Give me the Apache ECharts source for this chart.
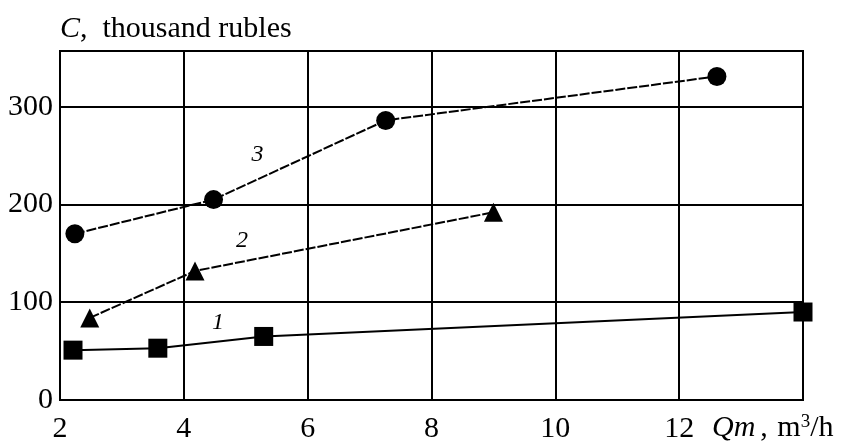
<!DOCTYPE html>
<html>
<head>
<meta charset="utf-8">
<script src="https://cdn.jsdelivr.net/npm/echarts@6/dist/echarts.min.js"></script>
<style>
  html, body { margin: 0; padding: 0; background: #fff; }
  #chart { width: 842px; height: 446px; }
</style>
</head>
<body>
<div id="chart"></div>
<script>
// Flow rate Qm (m^3/h) and cost C (thousand rubles) for the three curves
const curve1Q = [2.21, 3.58, 5.29, 14.0];
const curve1C = [51, 53, 65, 90];
const curve2Q = [2.48, 4.18, 9.0];
const curve2C = [84, 132, 192];
const curve3Q = [2.24, 4.48, 7.26, 12.61];
const curve3C = [170, 205, 286, 331];
const curveNames = ['1', '2', '3'];
const xTickLabels = [2, 4, 6, 8, 10, 12];
const yTickLabels = [0, 100, 200, 300];

const FONT = '"Liberation Serif", "Times New Roman", serif';
const pairs = (xs, ys) => xs.map((x, i) => [x, ys[i]]);

function curve(name, xs, ys, symbol, size, dash, labelAt) {
  return {
    name: name,
    type: 'line',
    data: pairs(xs, ys),
    symbol: symbol,
    symbolSize: size,
    clip: false,
    itemStyle: { color: '#000' },
    lineStyle: { color: '#000', width: 2, type: dash },
    markPoint: {
      symbol: 'circle',
      symbolSize: 1,
      itemStyle: { color: 'rgba(0,0,0,0)' },
      label: {
        show: true,
        position: 'inside',
        formatter: name,
        color: '#000',
        fontFamily: FONT,
        fontStyle: 'italic',
        fontSize: 24
      },
      data: [{ coord: labelAt }]
    }
  };
}

const chart = echarts.init(document.getElementById('chart'), null, { renderer: 'canvas' });
chart.setOption({
  backgroundColor: '#fff',
  animation: false,
  grid: {
    left: 60, right: 39, top: 51, bottom: 46,
    show: true, borderColor: '#000', borderWidth: 2
  },
  xAxis: {
    type: 'value',
    min: 2, max: 14, interval: 2,
    axisLine: { show: true, lineStyle: { color: '#000', width: 2 } },
    axisTick: { show: false },
    splitLine: { show: true, lineStyle: { color: '#000', width: 2 } },
    axisLabel: {
      margin: 14,
      color: '#000',
      fontFamily: FONT,
      fontSize: 30,
      formatter: v => (xTickLabels.indexOf(v) >= 0 ? String(v) : '')
    }
  },
  yAxis: {
    type: 'value',
    min: 0, max: 357, interval: 100,
    name: '{c|C},  thousand rubles',
    nameLocation: 'end',
    nameGap: 7,
    nameTextStyle: {
      align: 'left',
      color: '#000',
      fontFamily: FONT,
      fontSize: 30,
      rich: {
        c: { fontFamily: FONT, fontStyle: 'italic', fontSize: 30, color: '#000' }
      }
    },
    axisLine: { show: true, lineStyle: { color: '#000', width: 2 } },
    axisTick: { show: false },
    splitLine: { show: true, lineStyle: { color: '#000', width: 2 } },
    axisLabel: {
      margin: 7,
      color: '#000',
      fontFamily: FONT,
      fontSize: 30,
      formatter: v => (yTickLabels.indexOf(v) >= 0 ? String(v) : '')
    }
  },
  graphic: [{
    type: 'text',
    left: 712,
    top: 413,
    style: {
      text: '{q|Qm}{p|,} m{s|3}/h',
      fill: '#000',
      font: '30px ' + FONT,
      rich: {
        q: { fontFamily: FONT, fontStyle: 'italic', fontSize: 30 },
        p: { fontFamily: FONT, fontSize: 30, padding: [0, 2, 0, 5] },
        s: { fontFamily: FONT, fontSize: 19, verticalAlign: 'top', padding: [0, 0, 12, 0] }
      }
    }
  }],
  series: [
    curve(curveNames[0], curve1Q, curve1C, 'rect', 19, 'solid', [4.55, 79]),
    curve(curveNames[1], curve2Q, curve2C, 'triangle', 19, [10, 2], [4.94, 163]),
    curve(curveNames[2], curve3Q, curve3C, 'circle', 19, [10, 2], [5.19, 251])
  ]
});
</script>
</body>
</html>
